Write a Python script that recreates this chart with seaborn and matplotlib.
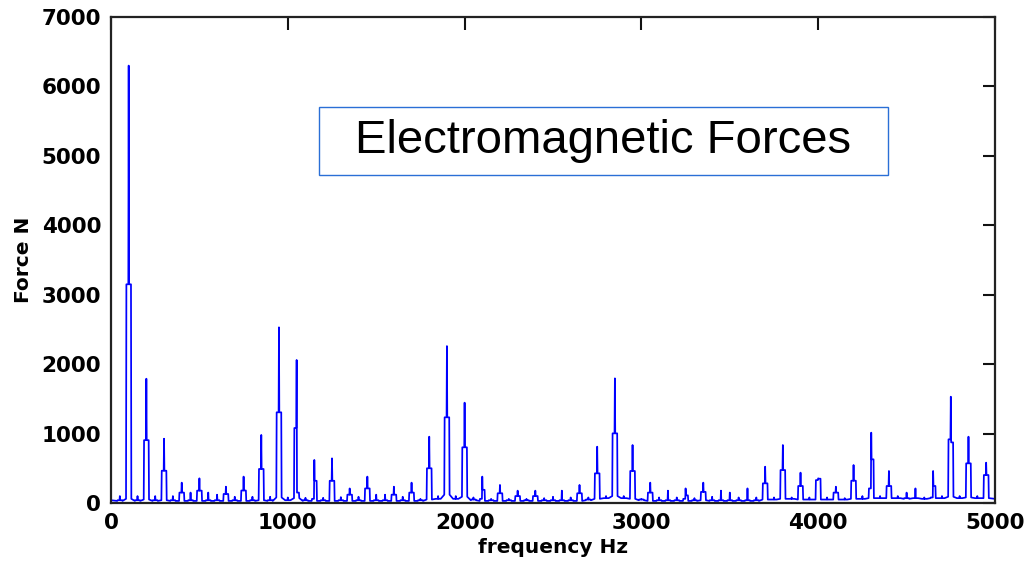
import numpy as np
import pandas as pd
import seaborn as sns
import matplotlib.pyplot as plt
from matplotlib.patches import Rectangle

# ---- data ----
peak_freq = [50, 100, 150, 200, 250, 300, 350, 400, 450, 500, 550, 600, 650, 700, 750, 800,
             850, 900, 950, 1000, 1050, 1100, 1150, 1200, 1250, 1300, 1350, 1400, 1450, 1500,
             1550, 1600, 1650, 1700, 1750, 1800, 1850, 1900, 1950, 2000, 2050, 2100, 2150,
             2200, 2250, 2300, 2350, 2400, 2450, 2500, 2550, 2600, 2650, 2700, 2750, 2800,
             2850, 2900, 2950, 3000, 3050, 3100, 3150, 3200, 3250, 3300, 3350, 3400, 3450,
             3500, 3550, 3600, 3650, 3700, 3750, 3800, 3850, 3900, 3950, 4000, 4050, 4100,
             4150, 4200, 4250, 4300, 4350, 4400, 4450, 4500, 4550, 4600, 4650, 4700, 4750,
             4800, 4850, 4900, 4950]
peak_top = [100, 6300, 100, 1790, 100, 926, 100, 293, 150, 355, 150, 120, 235, 90, 380, 90,
            980, 90, 2530, 80, 2060, 75, 620, 75, 643, 85, 210, 90, 380, 120,
            120, 235, 90, 293, 60, 955, 100, 2260, 100, 1445, 80, 380, 60,
            260, 60, 178, 60, 178, 70, 90, 178, 80, 260, 80, 811, 100,
            1795, 100, 835, 60, 293, 80, 178, 80, 210, 70, 293, 90, 178,
            150, 80, 210, 80, 523, 80, 835, 80, 437, 80, 355, 80, 235,
            70, 547, 100, 1013, 100, 461, 100, 150, 210, 80, 461, 100, 1531,
            100, 955, 100, 581]
peak_left = [40, 3150, 40, 905, 40, 465, 40, 150, 40, 178, 40, 40, 130, 40, 180, 40,
             490, 40, 1306, 40, 1080, 40, 60, 40, 320, 40, 120, 40, 210, 40,
             40, 120, 40, 150, 40, 500, 60, 1234, 60, 802, 50, 60, 40,
             140, 40, 100, 40, 100, 40, 40, 40, 40, 140, 50, 427, 70,
             1003, 70, 461, 50, 150, 40, 40, 40, 60, 40, 160, 40, 40,
             40, 40, 40, 40, 283, 50, 475, 60, 245, 50, 330, 50, 150,
             50, 321, 60, 210, 70, 245, 70, 70, 70, 60, 80, 70, 917,
             70, 571, 70, 403]
peak_right = [40, 3150, 40, 905, 40, 465, 40, 150, 40, 178, 40, 40, 130, 40, 180, 40,
              490, 40, 1306, 40, 150, 40, 320, 40, 320, 40, 120, 40, 210, 40,
              40, 120, 40, 150, 40, 500, 60, 1234, 60, 802, 50, 190, 40,
              140, 40, 100, 40, 100, 40, 40, 40, 40, 140, 50, 427, 70,
              1003, 70, 461, 50, 150, 40, 40, 40, 110, 40, 160, 40, 40,
              40, 40, 40, 40, 283, 50, 475, 60, 245, 50, 350, 50, 150,
              50, 321, 60, 629, 70, 245, 70, 70, 70, 60, 245, 70, 873,
              70, 571, 70, 403]
peak_foot = [30, 60, 30, 50, 30, 40, 30, 30, 30, 30, 30, 30, 30, 30, 30, 30,
             40, 30, 80, 40, 70, 30, 30, 30, 30, 30, 30, 30, 30, 30,
             30, 30, 30, 30, 30, 50, 60, 120, 60, 90, 40, 30, 30,
             30, 30, 30, 30, 30, 30, 30, 30, 30, 30, 40, 60, 70,
             100, 70, 60, 40, 30, 30, 30, 30, 30, 30, 40, 30, 30,
             30, 30, 30, 30, 50, 50, 60, 60, 50, 50, 50, 50, 50,
             50, 60, 60, 70, 70, 70, 70, 60, 70, 60, 70, 70, 90,
             70, 80, 70, 70]
edge_freq = [0, 5000]
edge_force = [40, 60]

x_ticks = [0, 1000, 2000, 3000, 4000, 5000]
y_ticks = [0, 1000, 2000, 3000, 4000, 5000, 6000, 7000]
title_text = "Electromagnetic Forces"

# ---- build the polyline (leakage shoulders around every spectral line) ----
HALF = 13   # Hz, shoulder half-width (drawing style)
xs, ys = [edge_freq[0]], [edge_force[0]]
for f, t, l, r, ft in zip(peak_freq, peak_top, peak_left, peak_right, peak_foot):
    xs += [f - HALF - 2, f - HALF, f - 2, f, f + 2, f + HALF, f + HALF + 2]
    ys += [ft, l, l, t, r, r, ft]
xs.append(edge_freq[1])
ys.append(edge_force[1])
df = pd.DataFrame({"freq": xs, "force": ys})

sns.set_style("white")
plt.rcParams["font.family"] = ["DejaVu Sans"]
plt.rcParams["text.color"] = "black"
plt.rcParams["axes.labelcolor"] = "black"
plt.rcParams["xtick.color"] = "black"
plt.rcParams["ytick.color"] = "black"

fig = plt.figure(figsize=(10.3, 5.72), dpi=100)
ax = fig.add_axes([111 / 1030, 1 - 503 / 572, 884 / 1030, 486 / 572])

sns.lineplot(data=df, x="freq", y="force", estimator=None, sort=False,
             color="#0000ff", linewidth=1.25, ax=ax)

ax.set_xlim(0, 5000)
ax.set_ylim(0, 7000)
ax.set_xticks(x_ticks)
ax.set_yticks(y_ticks)
ax.set_xticklabels([str(v) for v in x_ticks], fontsize=15.5, fontweight="bold")
ax.set_yticklabels([str(v) for v in y_ticks], fontsize=15.5, fontweight="bold")
ax.tick_params(direction="in", top=True, right=True, length=9, width=1.5,
               color="#111111", labelcolor="black", pad=7)
for s in ax.spines.values():
    s.set_visible(True)
    s.set_color("#222222")
    s.set_linewidth(1.6)

ax.set_xlabel("frequency Hz", fontsize=14.5, fontweight="bold", labelpad=4, color="black")
ax.set_ylabel("Force N", fontsize=14.5, fontweight="bold", labelpad=6, color="black")

box = Rectangle((208 / 884, 328 / 486), 569 / 884, 68 / 486, transform=ax.transAxes,
                facecolor="white", edgecolor="#2a6fd6", linewidth=1.0, zorder=3)
ax.add_patch(box)
ax.text((208 + 284.5) / 884, (328 + 34) / 486, title_text, transform=ax.transAxes,
        ha="center", va="center", fontsize=34, family=["Liberation Sans", "DejaVu Sans"],
        color="black", zorder=4)

fig.savefig("out.png", dpi=100, facecolor="white")
